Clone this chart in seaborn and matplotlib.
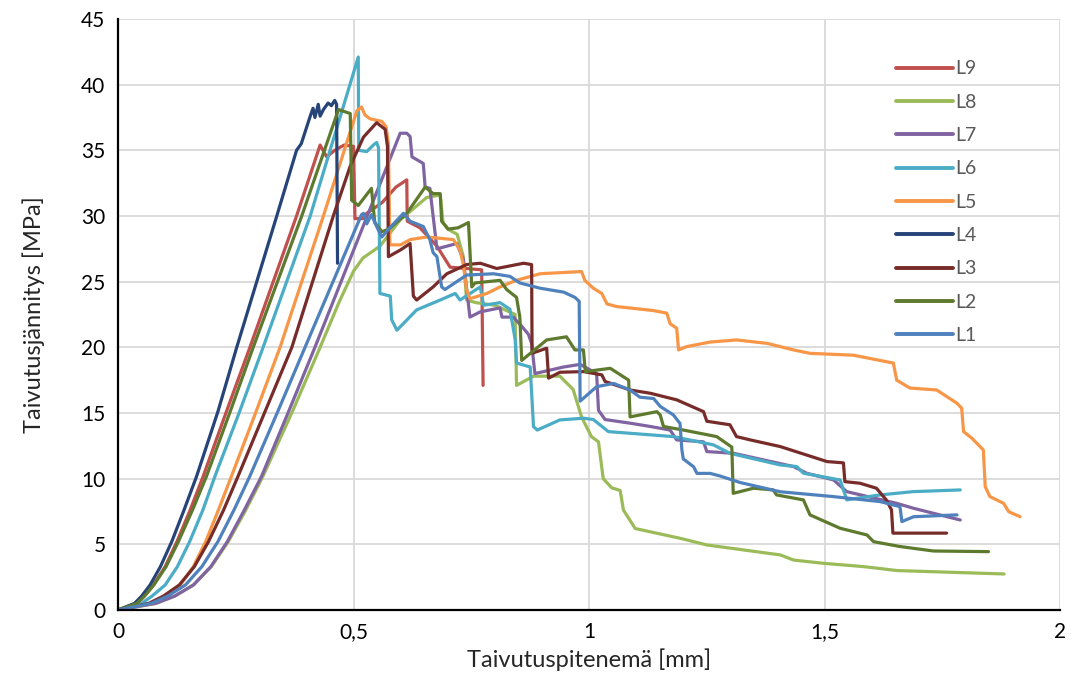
import numpy as np
import pandas as pd
import matplotlib
matplotlib.use("Agg")
import matplotlib.pyplot as plt
import seaborn as sns

# -----------------------------
# Data (deflection mm, stress MPa)
# -----------------------------
L1_x = [0, 0.07, 0.105, 0.143, 0.178, 0.212, 0.246, 0.280, 0.339, 0.397, 0.517, 0.521, 0.528,
        0.538, 0.549, 0.560, 0.577, 0.606, 0.620, 0.648, 0.662, 0.669, 0.677, 0.687, 0.694, 0.740,
        0.797, 0.832, 0.853, 0.896, 0.946, 0.970, 0.979, 0.981, 1.016, 1.052, 1.087, 1.108, 1.137,
        1.151, 1.179, 1.193, 1.197, 1.200, 1.222, 1.229, 1.257, 1.278, 1.321, 1.406, 1.519, 1.618,
        1.660, 1.664, 1.689, 1.781]
L1_y = [0, 0.5, 1.05, 1.9, 3.3, 5.2, 7.6, 10.2, 15.1, 20, 30.1, 30.2, 29.4,
        30.1, 29.2, 28.4, 29.1, 30.2, 29.6, 29.2, 28.2, 27.2, 26.9, 24.6, 24.4, 25.5,
        25.6, 25.4, 24.9, 24.5, 24.2, 23.8, 23.5, 15.9, 17.0, 17.25, 16.75, 16.2, 16.1,
        15.5, 14.85, 14.2, 12.2, 11.5, 10.9, 10.4, 10.4, 10.2, 9.7, 9.0, 8.63, 8.25,
        7.87, 6.73, 7.1, 7.24]

L2_x = [0, 0.04, 0.056, 0.076, 0.102, 0.128, 0.158, 0.188, 0.238, 0.287, 0.390, 0.468, 0.493,
        0.496, 0.510, 0.538, 0.545, 0.560, 0.575, 0.613, 0.652, 0.669, 0.684, 0.687, 0.701, 0.722,
        0.744, 0.751, 0.758, 0.811, 0.825, 0.846, 0.853, 0.857, 0.910, 0.952, 0.970, 0.988, 0.992,
        1.045, 1.084, 1.087, 1.144, 1.151, 1.158, 1.200, 1.271, 1.303, 1.306, 1.349, 1.391, 1.398,
        1.455, 1.469, 1.533, 1.590, 1.604, 1.660, 1.731, 1.848]
L2_y = [0, 0.5, 1.05, 1.9, 3.3, 5.2, 7.6, 10.2, 15.1, 20, 30, 38.1, 37.8,
        31.2, 30.8, 32.1, 29.5, 28.8, 29.0, 30.2, 32.2, 31.7, 31.7, 29.6, 29.0, 29.1,
        29.5, 24.6, 24.9, 25.1, 24.4, 23.8, 22.3, 19.0, 20.56, 20.8, 19.8, 19.8, 18.15,
        18.4, 17.5, 14.7, 15.1, 14.85, 13.97, 13.7, 13.2, 12.4, 8.88, 9.27, 9.14, 8.76,
        8.38, 7.24, 6.22, 5.71, 5.2, 4.83, 4.49, 4.44]

L3_x = [0, 0.065, 0.096, 0.130, 0.162, 0.192, 0.224, 0.255, 0.312, 0.369, 0.457, 0.493, 0.521,
        0.549, 0.567, 0.572, 0.574, 0.599, 0.620, 0.627, 0.634, 0.669, 0.698, 0.740, 0.769, 0.804,
        0.861, 0.878, 0.879, 0.910, 0.914, 0.938, 0.988, 1.027, 1.034, 1.087, 1.130, 1.186, 1.243,
        1.250, 1.299, 1.313, 1.342, 1.406, 1.505, 1.540, 1.543, 1.575, 1.610, 1.631, 1.642, 1.645,
        1.759]
L3_y = [0, 0.5, 1.05, 1.9, 3.3, 5.2, 7.6, 10.2, 15.1, 20, 30, 33.8, 36.0,
        37.1, 36.6, 35.3, 26.9, 27.4, 27.9, 23.9, 23.6, 24.6, 25.6, 26.3, 26.4, 26.0,
        26.4, 26.3, 19.55, 19.93, 17.65, 18.1, 18.15, 17.9, 17.4, 16.75, 16.5, 16.0, 15.1,
        14.37, 14.1, 13.2, 12.95, 12.44, 11.3, 11.2, 9.77, 9.65, 9.27, 8.38, 7.62, 5.85,
        5.85]

L4_x = [0, 0.035, 0.050, 0.068, 0.090, 0.114, 0.140, 0.167, 0.212, 0.252, 0.337, 0.379, 0.389,
        0.408, 0.414, 0.418, 0.425, 0.429, 0.436, 0.446, 0.453, 0.460, 0.464, 0.466]
L4_y = [0, 0.5, 1.05, 1.9, 3.3, 5.2, 7.6, 10.2, 15.1, 20, 30, 35, 35.5,
        37.6, 38.2, 37.5, 38.5, 37.6, 38.1, 38.6, 38.4, 38.8, 38.5, 26.4]

L5_x = [0, 0.07, 0.100, 0.132, 0.160, 0.186, 0.213, 0.241, 0.293, 0.344, 0.436, 0.507, 0.517,
        0.524, 0.535, 0.560, 0.569, 0.574, 0.577, 0.600, 0.620, 0.655, 0.712, 0.726, 0.733, 0.740,
        0.747, 0.783, 0.811, 0.846, 0.896, 0.984, 0.991, 1.009, 1.027, 1.038, 1.059, 1.136, 1.165,
        1.172, 1.186, 1.190, 1.207, 1.257, 1.313, 1.378, 1.434, 1.469, 1.561, 1.646, 1.653, 1.681,
        1.738, 1.781, 1.791, 1.795, 1.813, 1.837, 1.841, 1.851, 1.880, 1.891, 1.915]
L5_y = [0, 0.5, 1.05, 1.9, 3.3, 5.2, 7.6, 10.2, 15.1, 20, 30, 38.0, 38.3,
        37.7, 37.4, 37.2, 36.8, 35.5, 27.8, 27.8, 28.2, 28.4, 28.2, 27.4, 26.3, 24.4,
        23.7, 24.1, 24.6, 25.1, 25.6, 25.77, 25.1, 24.5, 24.1, 23.3, 23.1, 22.8, 22.6,
        21.8, 21.45, 19.8, 20.05, 20.4, 20.56, 20.3, 19.8, 19.54, 19.4, 18.8, 17.5, 16.9,
        16.75, 15.74, 15.36, 13.58, 13.07, 12.18, 9.39, 8.63, 8.12, 7.48, 7.1]

L6_x = [0, 0.05, 0.072, 0.100, 0.126, 0.152, 0.180, 0.206, 0.258, 0.308, 0.408, 0.510, 0.511,
        0.528, 0.542, 0.549, 0.553, 0.556, 0.578, 0.581, 0.592, 0.634, 0.684, 0.716, 0.726, 0.769,
        0.776, 0.811, 0.832, 0.843, 0.846, 0.875, 0.882, 0.890, 0.938, 0.988, 1.009, 1.041, 1.179,
        1.264, 1.299, 1.406, 1.441, 1.455, 1.533, 1.547, 1.568, 1.618, 1.688, 1.788]
L6_y = [0, 0.5, 1.05, 1.9, 3.3, 5.2, 7.6, 10.2, 15.1, 20, 30, 42.1, 35.0,
        34.9, 35.4, 35.6, 35.2, 24.1, 23.9, 22.1, 21.3, 22.85, 23.6, 24.1, 23.6, 24.6,
        23.2, 23.4, 22.9, 20.6, 18.8, 18.5, 13.96, 13.7, 14.47, 14.6, 14.5, 13.58, 13.2,
        12.57, 11.93, 11.04, 10.92, 10.41, 9.9, 8.38, 8.5, 8.76, 9.01, 9.14]

L7_x = [0, 0.08, 0.120, 0.160, 0.197, 0.232, 0.268, 0.305, 0.362, 0.418, 0.599, 0.613, 0.620,
        0.624, 0.648, 0.652, 0.662, 0.669, 0.677, 0.719, 0.733, 0.747, 0.769, 0.811, 0.815, 0.839,
        0.857, 0.871, 0.878, 0.885, 0.946, 0.981, 1.016, 1.020, 1.034, 1.091, 1.130, 1.172, 1.186,
        1.243, 1.250, 1.307, 1.434, 1.462, 1.519, 1.547, 1.653, 1.689, 1.788]
L7_y = [0, 0.5, 1.05, 1.9, 3.3, 5.2, 7.6, 10.2, 15.1, 20, 36.3, 36.3, 36.05,
        34.5, 34.0, 32.2, 32.1, 29.96, 27.5, 27.9, 26.7, 22.3, 22.7, 23.0, 22.3, 22.3,
        21.6, 21.0, 20.3, 18.0, 18.5, 18.7, 18.0, 15.2, 14.5, 14.2, 13.97, 13.7, 12.95,
        12.8, 12.06, 11.93, 10.92, 10.41, 9.9, 9.01, 8.12, 7.74, 6.85]

L8_x = [0, 0.08, 0.120, 0.160, 0.198, 0.234, 0.271, 0.308, 0.370, 0.429, 0.470, 0.500, 0.520,
        0.556, 0.599, 0.655, 0.684, 0.690, 0.700, 0.720, 0.733, 0.740, 0.760, 0.800, 0.843, 0.846,
        0.882, 0.938, 0.966, 0.984, 1.005, 1.020, 1.030, 1.048, 1.066, 1.073, 1.098, 1.193, 1.250,
        1.406, 1.434, 1.498, 1.583, 1.654, 1.881]
L8_y = [0, 0.5, 1.05, 1.9, 3.3, 5.2, 7.6, 10.2, 15.1, 20, 23.5, 25.8, 26.8,
        27.7, 29.7, 31.4, 31.6, 29.5, 29.0, 28.6, 26.9, 23.6, 23.4, 23.2, 22.5, 17.1,
        17.8, 17.8, 16.8, 14.7, 13.2, 12.8, 10.0, 9.3, 9.1, 7.6, 6.2, 5.46, 4.95,
        4.19, 3.8, 3.55, 3.3, 3.0, 2.74]

L9_x = [0, 0.04, 0.056, 0.075, 0.100, 0.125, 0.153, 0.181, 0.230, 0.280, 0.379, 0.429, 0.443,
        0.460, 0.480, 0.500, 0.503, 0.520, 0.528, 0.560, 0.590, 0.613, 0.614, 0.641, 0.677, 0.705,
        0.740, 0.772, 0.775]
L9_y = [0, 0.5, 1.05, 1.9, 3.3, 5.2, 7.6, 10.2, 15.1, 20, 30, 35.4, 34.5,
        35.0, 35.4, 35.3, 29.8, 29.8, 30.2, 31.0, 32.2, 32.75, 29.6, 29.1, 27.7, 26.1,
        26.0, 25.9, 17.1]

sample_order = ["L9", "L8", "L7", "L6", "L5", "L4", "L3", "L2", "L1"]
sample_colors = ["#C0504D", "#9BBB59", "#8064A2", "#4BACC6", "#F79646",
                 "#264478", "#772C2A", "#5E7A2E", "#4F81BD"]

x_ticks = [0, 0.5, 1, 1.5, 2]
x_tick_labels = ["0", "0,5", "1", "1,5", "2"]
y_ticks = list(range(0, 50, 5))

# -----------------------------
# Long-form table for seaborn
# -----------------------------
curves = {
    "L1": (L1_x, L1_y), "L2": (L2_x, L2_y), "L3": (L3_x, L3_y),
    "L4": (L4_x, L4_y), "L5": (L5_x, L5_y), "L6": (L6_x, L6_y),
    "L7": (L7_x, L7_y), "L8": (L8_x, L8_y), "L9": (L9_x, L9_y),
}
frames = []
for name, (xs, ys) in curves.items():
    frames.append(pd.DataFrame({"x": xs, "y": ys, "sample": name}))
df = pd.concat(frames, ignore_index=True)

# -----------------------------
# Plot
# -----------------------------
sns.set_style("white")
plt.rcParams["font.family"] = ["Lato", "DejaVu Sans"]

fig = plt.figure(figsize=(10.73, 6.90), dpi=100)
ax = fig.add_axes([0.110, 0.116, 0.878, 0.8565])

sns.lineplot(data=df, x="x", y="y", hue="sample", hue_order=sample_order,
             palette=dict(zip(sample_order, sample_colors)),
             sort=False, estimator=None, linewidth=2.3, ax=ax)

ax.set_xlim(0, 2)
ax.set_ylim(0, 45)
ax.set_xticks(x_ticks)
ax.set_xticklabels(x_tick_labels)
ax.set_yticks(y_ticks)
ax.tick_params(axis="both", length=0, labelsize=15, colors="black", pad=9)
ax.grid(True, color="#D9D9D9", linewidth=1.3)
ax.set_axisbelow(True)

for side in ["top", "right"]:
    ax.spines[side].set_visible(False)
for side in ["left", "bottom"]:
    ax.spines[side].set_color("black")
    ax.spines[side].set_linewidth(1.6)

ax.set_xlabel("Taivutuspitenemä [mm]", fontsize=17, labelpad=4)
ax.set_ylabel("Taivutusjännitys [MPa]", fontsize=17, labelpad=26)

leg = ax.legend(loc="upper left", bbox_to_anchor=(0.818, 0.943), frameon=False,
                fontsize=14, handlelength=2.9, handletextpad=0.15,
                labelspacing=0.84, borderaxespad=0)
for line in leg.get_lines():
    line.set_linewidth(2.8)
for txt in leg.get_texts():
    txt.set_color("#595959")

fig.savefig("out.png", dpi=100)
